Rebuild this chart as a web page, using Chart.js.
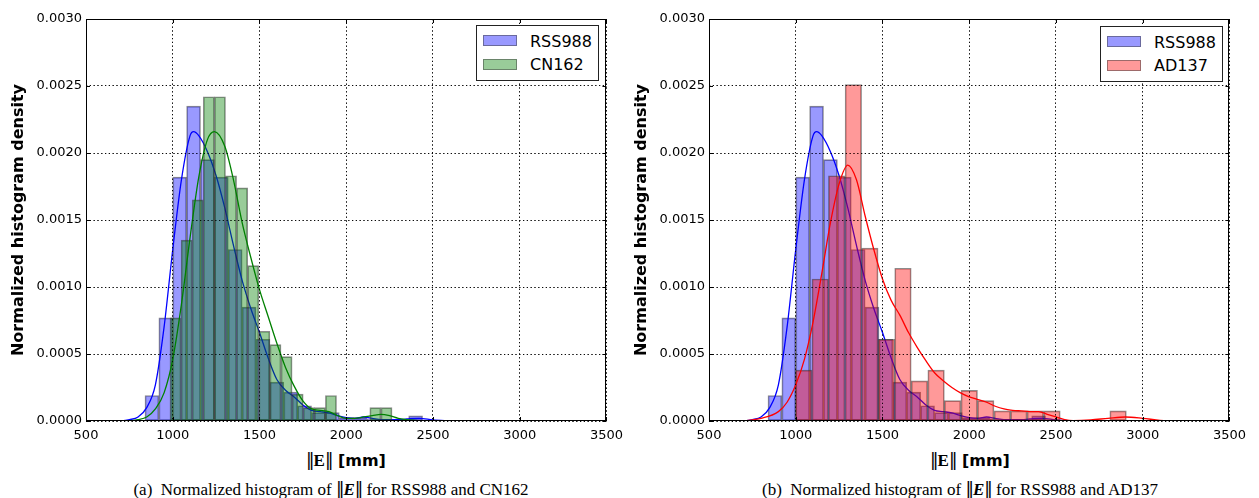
<!DOCTYPE html>
<html>
<head>
<meta charset="utf-8">
<script src="https://cdn.jsdelivr.net/npm/chart.js@4.4.1/dist/chart.umd.min.js"></script>
<style>
	body { margin: 0; background: #fff; width: 1259px; height: 498px; position: relative; overflow: hidden; font-family: "DejaVu Sans", sans-serif; color: #000; }
	.panel { position: absolute; top: 0; width: 630px; height: 445px; }
	.legend { position: absolute; width: 121px; height: 54px; border: 1px solid #222; background: #fff; }
	.patch { position: absolute; left: 6px; width: 32px; height: 9px; border: 1px solid rgba(60, 60, 60, 0.5); }
	.lbl { position: absolute; left: 53px; font-size: 16px; line-height: 20px; white-space: nowrap; }
	.xt { position: absolute; top: 450px; width: 300px; text-align: center; font-size: 16px; font-weight: bold; line-height: 20px; }
	.xt .m { font-family: "Liberation Serif", serif; font-size: 17px; }
	.dbar { font-family: "DejaVu Sans", sans-serif; font-weight: normal; font-style: normal; letter-spacing: -1px; }
	.cap { position: absolute; top: 479px; width: 580px; text-align: center; font-family: "Liberation Serif", serif; font-size: 17px; line-height: 20px; white-space: nowrap; }
</style>
</head>
<body>

<div class="panel" style="left:0px"><canvas id="chartA"></canvas></div>
<div class="panel" style="left:623px"><canvas id="chartB"></canvas></div>

<div class="legend" style="left:476px; top:25px">
	<span class="patch" style="top:9px; background:rgba(0,0,255,0.4)"></span><span class="lbl" style="top:6px">RSS988</span>
	<span class="patch" style="top:33px; background:rgba(0,128,0,0.4)"></span><span class="lbl" style="top:29px">CN162</span>
</div>
<div class="legend" style="left:1100px; top:26px">
	<span class="patch" style="top:9px; background:rgba(0,0,255,0.4)"></span><span class="lbl" style="top:6px">RSS988</span>
	<span class="patch" style="top:33px; background:rgba(255,0,0,0.4)"></span><span class="lbl" style="top:29px">AD137</span>
</div>

<div class="xt" style="left:196px"><span class="m"><span class="dbar">‖</span>E<span class="dbar">‖</span></span> [mm]</div>
<div class="xt" style="left:820px"><span class="m"><span class="dbar">‖</span>E<span class="dbar">‖</span></span> [mm]</div>

<div class="cap" style="left:41px">(a)&nbsp; Normalized histogram of <span class="dbar">‖</span><b><i>E</i></b><span class="dbar">‖</span> for RSS988 and CN162</div>
<div class="cap" style="left:670px">(b)&nbsp; Normalized histogram of <span class="dbar">‖</span><b><i>E</i></b><span class="dbar">‖</span> for RSS988 and AD137</div>

<script>
'use strict';

// axis ticks
const xTickValues = [500, 1000, 1500, 2000, 2500, 3000, 3500];
const yTickValues = [0, 0.0005, 0.001, 0.0015, 0.002, 0.0025, 0.003];

// RSS988 histogram (bin centres, density)
const rssBins = [880, 960, 1040, 1120, 1200, 1280, 1360, 1440, 1520, 1600, 1680, 1760, 1840, 1920, 2000, 2080, 2160, 2240, 2320, 2400];
const rssDensity = [0.00019, 0.00077, 0.00182, 0.00235, 0.00195, 0.00182, 0.00128, 0.00085, 0.00061, 0.00029, 0.000215, 0.000114, 0.000063, 0.000063, 0.000025, 0.000025, 0.000013, 0.000013, 0, 0.000038];

// CN162 histogram
const cnBins = [1016, 1080, 1144, 1208, 1272, 1336, 1400, 1464, 1528, 1592, 1656, 1720, 1784, 1848, 1912, 1976, 2040, 2104, 2168, 2232];
const cnDensity = [0.00077, 0.00135, 0.00165, 0.00242, 0.00242, 0.00183, 0.00174, 0.00116, 0.00067, 0.00057, 0.00048, 0.0002, 0.0001, 0.0001, 0.00019, 0, 0, 0, 0.0001, 0.0001];

// AD137 histogram
const adBins = [1046, 1141, 1236, 1332, 1427, 1523, 1618, 1713, 1809, 1904, 2000, 2095, 2191, 2286, 2381, 2477, 2572, 2668, 2763, 2858];
const adDensity = [0.00038, 0.00106, 0.00183, 0.00251, 0.00129, 0.00061, 0.00114, 0.0003, 0.00038, 0.000152, 0.000228, 0.000152, 0.000076, 0.000076, 0.000076, 0.000076, 0, 0, 0, 0.000076];

// KDE curves
const rssKdeX = [700, 750, 800, 850, 900, 950, 1000, 1050, 1100, 1120, 1150, 1200, 1250, 1300, 1350, 1400, 1450, 1500, 1550, 1600, 1650, 1700, 1750, 1800, 1850, 1900, 1950, 2000, 2050, 2100, 2150, 2200, 2250, 2300, 2350, 2420, 2500, 2600];
const rssKdeY = [0, 0.00001, 0.00003, 0.0001, 0.00027, 0.0007, 0.00128, 0.0018, 0.00213, 0.00216, 0.00213, 0.00201, 0.00183, 0.00159, 0.00131, 0.00105, 0.00084, 0.00066, 0.00047, 0.00031, 0.00023, 0.00018, 0.00012, 0.00008, 0.00007, 0.00006, 0.00004, 0.000025, 0.00002, 0.00003, 0.00002, 0.00001, 0.00001, 0.00001, 0.000015, 0.00002, 0.000008, 0];

const cnKdeX = [740, 800, 850, 900, 950, 1000, 1050, 1100, 1150, 1200, 1240, 1300, 1350, 1400, 1450, 1500, 1550, 1600, 1650, 1700, 1750, 1800, 1850, 1900, 1950, 2000, 2050, 2100, 2150, 2200, 2250, 2300, 2400, 2500];
const cnKdeY = [0, 0.00001, 0.00003, 0.00009, 0.00021, 0.00046, 0.00087, 0.00137, 0.00182, 0.0021, 0.00216, 0.00205, 0.0018, 0.00148, 0.00122, 0.00098, 0.00078, 0.00058, 0.0004, 0.00026, 0.00015, 0.00009, 0.00008, 0.00007, 0.00004, 0.00002, 0.00002, 0.00003, 0.00004, 0.00005, 0.00004, 0.00002, 0.000005, 0];

const adKdeX = [690, 800, 900, 950, 1000, 1050, 1100, 1150, 1200, 1250, 1300, 1350, 1400, 1450, 1500, 1550, 1600, 1650, 1700, 1750, 1800, 1850, 1900, 1950, 2000, 2050, 2100, 2150, 2200, 2250, 2300, 2350, 2400, 2450, 2500, 2550, 2600, 2700, 2800, 2900, 3000, 3100, 3180];
const adKdeY = [0, 0.00002, 0.00007, 0.00014, 0.00027, 0.00046, 0.00074, 0.0011, 0.00148, 0.00177, 0.00191, 0.0018, 0.00153, 0.00128, 0.00106, 0.0009, 0.00079, 0.00066, 0.00055, 0.00045, 0.00036, 0.0003, 0.00025, 0.00021, 0.00018, 0.00016, 0.00014, 0.00011, 0.00009, 0.00008, 0.000075, 0.00007, 0.00007, 0.00005, 0.00003, 0.00001, 0.000003, 0.000008, 0.00002, 0.00003, 0.00002, 0.000005, 0];

Chart.defaults.font.family = 'DejaVu Sans';
Chart.defaults.color = '#000';

function toPoints(xs, ys) {
	return xs.map((x, i) => ({ x: x, y: ys[i] }));
}

// grid on top of the bars + black frame + inner ticks (matplotlib classic look)
const frameOnTop = {
	id: 'frameOnTop',
	afterDatasetsDraw(chart) {
		const ctx = chart.ctx;
		const area = chart.chartArea;
		['x', 'y'].forEach(id => {
			const sc = chart.scales[id];
			if (sc && typeof sc.drawGrid === 'function') sc.drawGrid(area);
		});
		ctx.save();
		ctx.strokeStyle = '#000';
		ctx.lineWidth = 1;
		ctx.beginPath();
		xTickValues.forEach(v => {
			const px = Math.round(chart.scales.x.getPixelForValue(v)) + 0.5;
			ctx.moveTo(px, area.bottom); ctx.lineTo(px, area.bottom - 4);
			ctx.moveTo(px, area.top); ctx.lineTo(px, area.top + 4);
		});
		yTickValues.forEach(v => {
			const py = Math.round(chart.scales.y.getPixelForValue(v)) + 0.5;
			ctx.moveTo(area.left, py); ctx.lineTo(area.left + 4, py);
			ctx.moveTo(area.right, py); ctx.lineTo(area.right - 4, py);
		});
		ctx.stroke();
		ctx.strokeRect(Math.round(area.left) + 0.5, Math.round(area.top) + 0.5,
			Math.round(area.right - area.left) - 1, Math.round(area.bottom - area.top) - 1);
		ctx.restore();
	}
};

// density chart with two histograms + kde lines
function initDensityChart(canvasId, padRight, series) {
	const canvas = document.getElementById(canvasId);
	if (!canvas) return;

	const datasets = [];
	const scales = {
		x: {
			type: 'linear',
			min: 500,
			max: 3500,
			offset: false,
			afterBuildTicks: s => { s.ticks = xTickValues.map(v => ({ value: v })); },
			afterFit: s => { s.height = 24; },
			ticks: {
				padding: 7,
				maxRotation: 0,
				autoSkip: false,
				font: { size: 13 },
				callback: v => String(v)
			},
			grid: { color: '#000', lineWidth: 0.8, drawTicks: false, offset: false },
			border: { display: false, dash: [1.2, 2.6] }
		},
		y: {
			type: 'linear',
			min: 0,
			max: 0.003,
			afterBuildTicks: s => { s.ticks = yTickValues.map(v => ({ value: v })); },
			afterFit: s => { s.width = 86; },
			ticks: {
				padding: 4,
				font: { size: 13 },
				callback: v => v.toFixed(4)
			},
			grid: { color: '#000', lineWidth: 0.8, drawTicks: false },
			border: { display: false, dash: [1.2, 2.6] },
			title: {
				display: true,
				text: 'Normalized histogram density',
				font: { size: 16, weight: 'bold' },
				padding: { top: 9, bottom: 0 }
			}
		}
	};

	series.forEach((s, i) => {
		const axisId = 'xh' + i;
		scales[axisId] = {
			type: 'linear',
			display: false,
			min: 500,
			max: 3500,
			offset: false,
			ticks: { stepSize: 500 }
		};
		datasets.push({
			type: 'bar',
			label: s.label,
			xAxisID: axisId,
			yAxisID: 'y',
			data: toPoints(s.bins, s.density),
			backgroundColor: s.fill,
			borderColor: 'rgba(45, 45, 45, 0.55)',
			borderWidth: 1,
			borderSkipped: false,
			barPercentage: 1,
			categoryPercentage: 1,
			grouped: false,
			order: 10 - i * 2
		});
		datasets.push({
			type: 'line',
			label: s.label + ' kde',
			xAxisID: 'x',
			yAxisID: 'y',
			data: toPoints(s.kdeX, s.kdeY),
			borderColor: s.line,
			borderWidth: 1.3,
			pointRadius: 0,
			fill: false,
			cubicInterpolationMode: 'monotone',
			order: 9 - i * 2
		});
	});

	new Chart(canvas, {
		type: 'line',
		data: { datasets: datasets },
		options: {
			responsive: true,
			maintainAspectRatio: false,
			animation: false,
			layout: { padding: { top: 19, right: padRight, bottom: 0, left: 0 } },
			plugins: {
				legend: { display: false },
				tooltip: { enabled: false }
			},
			scales: scales
		},
		plugins: [frameOnTop]
	});
}

document.addEventListener('DOMContentLoaded', function() {
	const rss = { label: 'RSS988', bins: rssBins, density: rssDensity, kdeX: rssKdeX, kdeY: rssKdeY, fill: 'rgba(0, 0, 255, 0.4)', line: '#0000ff' };

	initDensityChart('chartA', 23, [
		rss,
		{ label: 'CN162', bins: cnBins, density: cnDensity, kdeX: cnKdeX, kdeY: cnKdeY, fill: 'rgba(0, 128, 0, 0.4)', line: '#008000' }
	]);

	initDensityChart('chartB', 22, [
		rss,
		{ label: 'AD137', bins: adBins, density: adDensity, kdeX: adKdeX, kdeY: adKdeY, fill: 'rgba(255, 0, 0, 0.4)', line: '#ff0000' }
	]);
});
</script>
</body>
</html>
